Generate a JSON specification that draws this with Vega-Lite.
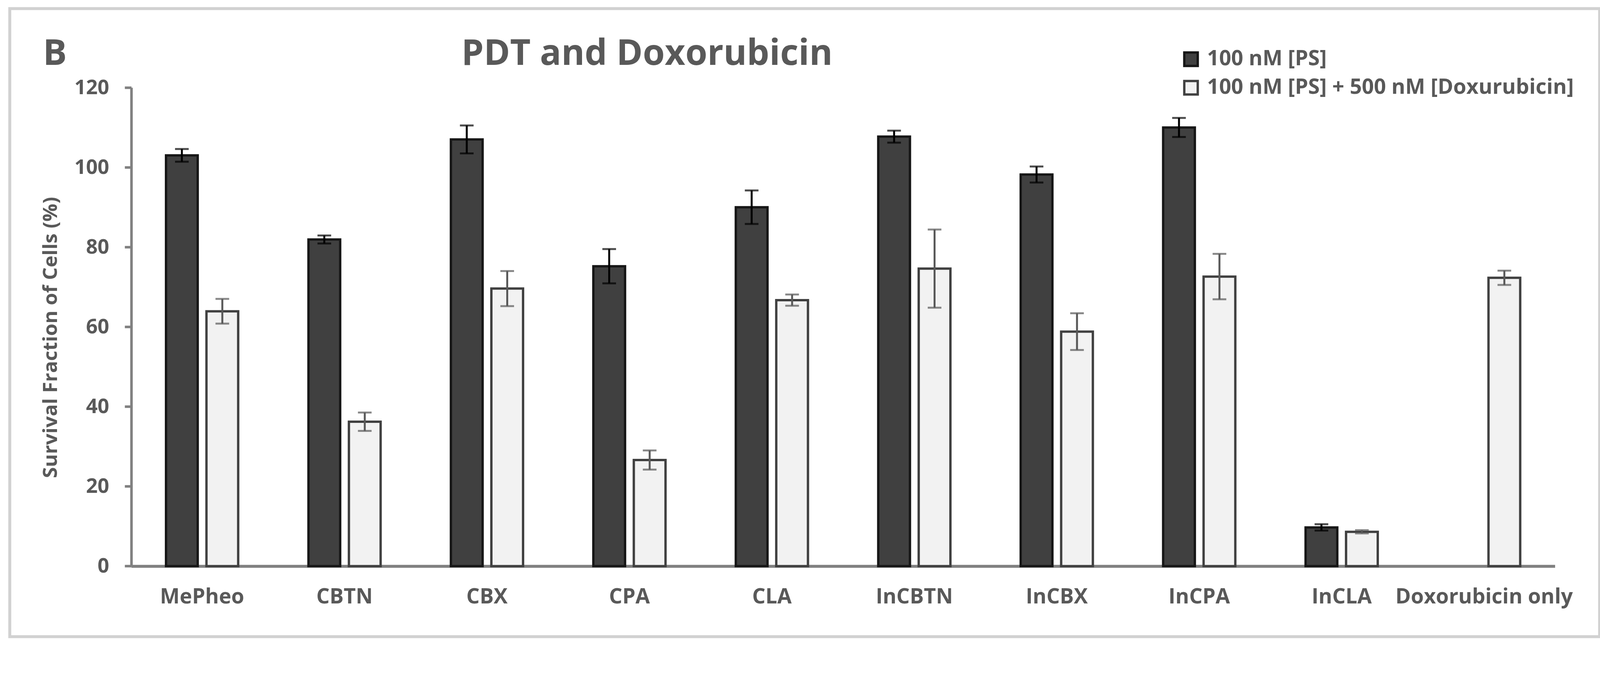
{
  "$schema": "https://vega.github.io/schema/vega-lite/v6.json",
  "width": 4070,
  "height": 1607,
  "autosize": "none",
  "padding": {"left": 25, "top": 22, "right": 6, "bottom": 28},
  "background": "white",
  "title": {
    "text": "B\u2003\u2003\u2003\u2003\u2003\u2003\u2003\u2003\u2003\u2003\u2003\u200aPDT and Doxorubicin",
    "orient": "top",
    "frame": "group",
    "anchor": "start",
    "offset": 0,
    "dx": 85,
    "dy": 235,
    "baseline": "alphabetic",
    "font": "Open Sans",
    "fontSize": 91,
    "fontWeight": "bold",
    "color": "#595959"
  },
  "config": {
    "view": {"stroke": "#d1d1d1", "strokeWidth": 7.5, "fill": "white"},
    "font": "Open Sans",
    "axisY": {
      "offset": -311.1,
      "labelFont": "Open Sans",
      "labelFontSize": 52,
      "labelFontWeight": "bold",
      "labelColor": "#595959",
      "labelPadding": 40,
      "tickColor": "#808080",
      "tickSize": 17,
      "tickWidth": 6.5,
      "domainColor": "#808080",
      "domainWidth": 6.5,
      "grid": false,
      "titleFont": "Open Sans",
      "titleFontSize": 51,
      "titleFontWeight": "bold",
      "titleColor": "#595959",
      "titlePadding": 33,
      "titleY": 841
    },
    "axisX": {
      "offset": -180.6,
      "labelFont": "Open Sans",
      "labelFontSize": 53.5,
      "labelFontWeight": "bold",
      "labelColor": "#595959",
      "labelPadding": 53.5,
      "labelAngle": 0,
      "labelLimit": 0,
      "labelOverlap": false,
      "ticks": false,
      "tickSize": 0,
      "domainColor": "#808080",
      "domainWidth": 7.5,
      "grid": false
    },
    "legend": {
      "orient": "none",
      "legendX": 2997,
      "legendY": 102.4,
      "padding": 0,
      "symbolType": "square",
      "symbolSize": 1190,
      "symbolStrokeWidth": 6,
      "labelFont": "Open Sans",
      "labelFontSize": 54,
      "labelFontWeight": "bold",
      "labelColor": "#595959",
      "labelOffset": 14,
      "rowPadding": 13,
      "labelLimit": 0
    }
  },
  "data": {
    "values": [
      {"compound": "MePheo", "group": "100 nM [PS]", "value": 103.0, "lo": 101.4, "hi": 104.6},
      {"compound": "MePheo", "group": "100 nM [PS] + 500 nM [Doxurubicin]", "value": 63.9, "lo": 60.8, "hi": 67.0},
      {"compound": "CBTN", "group": "100 nM [PS]", "value": 81.9, "lo": 80.9, "hi": 82.9},
      {"compound": "CBTN", "group": "100 nM [PS] + 500 nM [Doxurubicin]", "value": 36.2, "lo": 33.9, "hi": 38.5},
      {"compound": "CBX", "group": "100 nM [PS]", "value": 107.0, "lo": 103.5, "hi": 110.5},
      {"compound": "CBX", "group": "100 nM [PS] + 500 nM [Doxurubicin]", "value": 69.6, "lo": 65.2, "hi": 74.0},
      {"compound": "CPA", "group": "100 nM [PS]", "value": 75.2, "lo": 70.9, "hi": 79.5},
      {"compound": "CPA", "group": "100 nM [PS] + 500 nM [Doxurubicin]", "value": 26.6, "lo": 24.2, "hi": 29.0},
      {"compound": "CLA", "group": "100 nM [PS]", "value": 90.0, "lo": 85.8, "hi": 94.2},
      {"compound": "CLA", "group": "100 nM [PS] + 500 nM [Doxurubicin]", "value": 66.7, "lo": 65.3, "hi": 68.1},
      {"compound": "InCBTN", "group": "100 nM [PS]", "value": 107.7, "lo": 106.2, "hi": 109.2},
      {"compound": "InCBTN", "group": "100 nM [PS] + 500 nM [Doxurubicin]", "value": 74.6, "lo": 64.8, "hi": 84.4},
      {"compound": "InCBX", "group": "100 nM [PS]", "value": 98.2, "lo": 96.2, "hi": 100.2},
      {"compound": "InCBX", "group": "100 nM [PS] + 500 nM [Doxurubicin]", "value": 58.8, "lo": 54.2, "hi": 63.4},
      {"compound": "InCPA", "group": "100 nM [PS]", "value": 110.0, "lo": 107.6, "hi": 112.4},
      {"compound": "InCPA", "group": "100 nM [PS] + 500 nM [Doxurubicin]", "value": 72.6, "lo": 66.9, "hi": 78.3},
      {"compound": "InCLA", "group": "100 nM [PS]", "value": 9.7, "lo": 8.9, "hi": 10.5},
      {"compound": "InCLA", "group": "100 nM [PS] + 500 nM [Doxurubicin]", "value": 8.6, "lo": 8.2, "hi": 9.0},
      {"compound": "Doxorubicin only", "group": "100 nM [PS] + 500 nM [Doxurubicin]", "value": 72.3, "lo": 70.5, "hi": 74.1}
    ]
  },
  "encoding": {
    "x": {
      "field": "compound",
      "type": "nominal",
      "sort": ["MePheo", "CBTN", "CBX", "CPA", "CLA", "InCBTN", "InCBX", "InCPA", "InCLA", "Doxorubicin only"],
      "scale": {"range": [311.1, 3955.6], "paddingInner": 0.4933, "paddingOuter": 0.2437},
      "axis": {"title": null}
    },
    "xOffset": {
      "field": "group",
      "type": "nominal",
      "scale": {"domain": ["100 nM [PS]", "100 nM [PS] + 500 nM [Doxurubicin]"], "paddingInner": 0.216, "paddingOuter": 0}
    }
  },
  "layer": [
    {
      "mark": {"type": "bar", "strokeWidth": 6},
      "encoding": {
        "y": {
          "field": "value",
          "type": "quantitative",
          "title": "Survival Fraction of Cells (%)",
          "scale": {"domain": [0, 120], "range": [1426.4, 202.1], "nice": false, "zero": true},
          "axis": {"values": [0, 20, 40, 60, 80, 100, 120]}
        },
        "fill": {
          "field": "group",
          "type": "nominal",
          "title": null,
          "scale": {"domain": ["100 nM [PS]", "100 nM [PS] + 500 nM [Doxurubicin]"], "range": ["#404040", "#f2f2f2"]}
        },
        "stroke": {
          "field": "group",
          "type": "nominal",
          "title": null,
          "scale": {"domain": ["100 nM [PS]", "100 nM [PS] + 500 nM [Doxurubicin]"], "range": ["#161616", "#404040"]}
        }
      }
    },
    {
      "mark": {"type": "rule", "strokeWidth": 5},
      "encoding": {
        "y": {"field": "lo", "type": "quantitative", "title": "Survival Fraction of Cells (%)"},
        "y2": {"field": "hi"},
        "color": {"condition": {"test": "datum.group === '100 nM [PS]'", "value": "#000000"}, "value": "#595959"}
      }
    },
    {
      "mark": {"type": "tick", "thickness": 5, "size": 35},
      "encoding": {
        "y": {"field": "lo", "type": "quantitative", "title": "Survival Fraction of Cells (%)"},
        "color": {"condition": {"test": "datum.group === '100 nM [PS]'", "value": "#000000"}, "value": "#595959"}
      }
    },
    {
      "mark": {"type": "tick", "thickness": 5, "size": 35},
      "encoding": {
        "y": {"field": "hi", "type": "quantitative", "title": "Survival Fraction of Cells (%)"},
        "color": {"condition": {"test": "datum.group === '100 nM [PS]'", "value": "#000000"}, "value": "#595959"}
      }
    }
  ]
}
